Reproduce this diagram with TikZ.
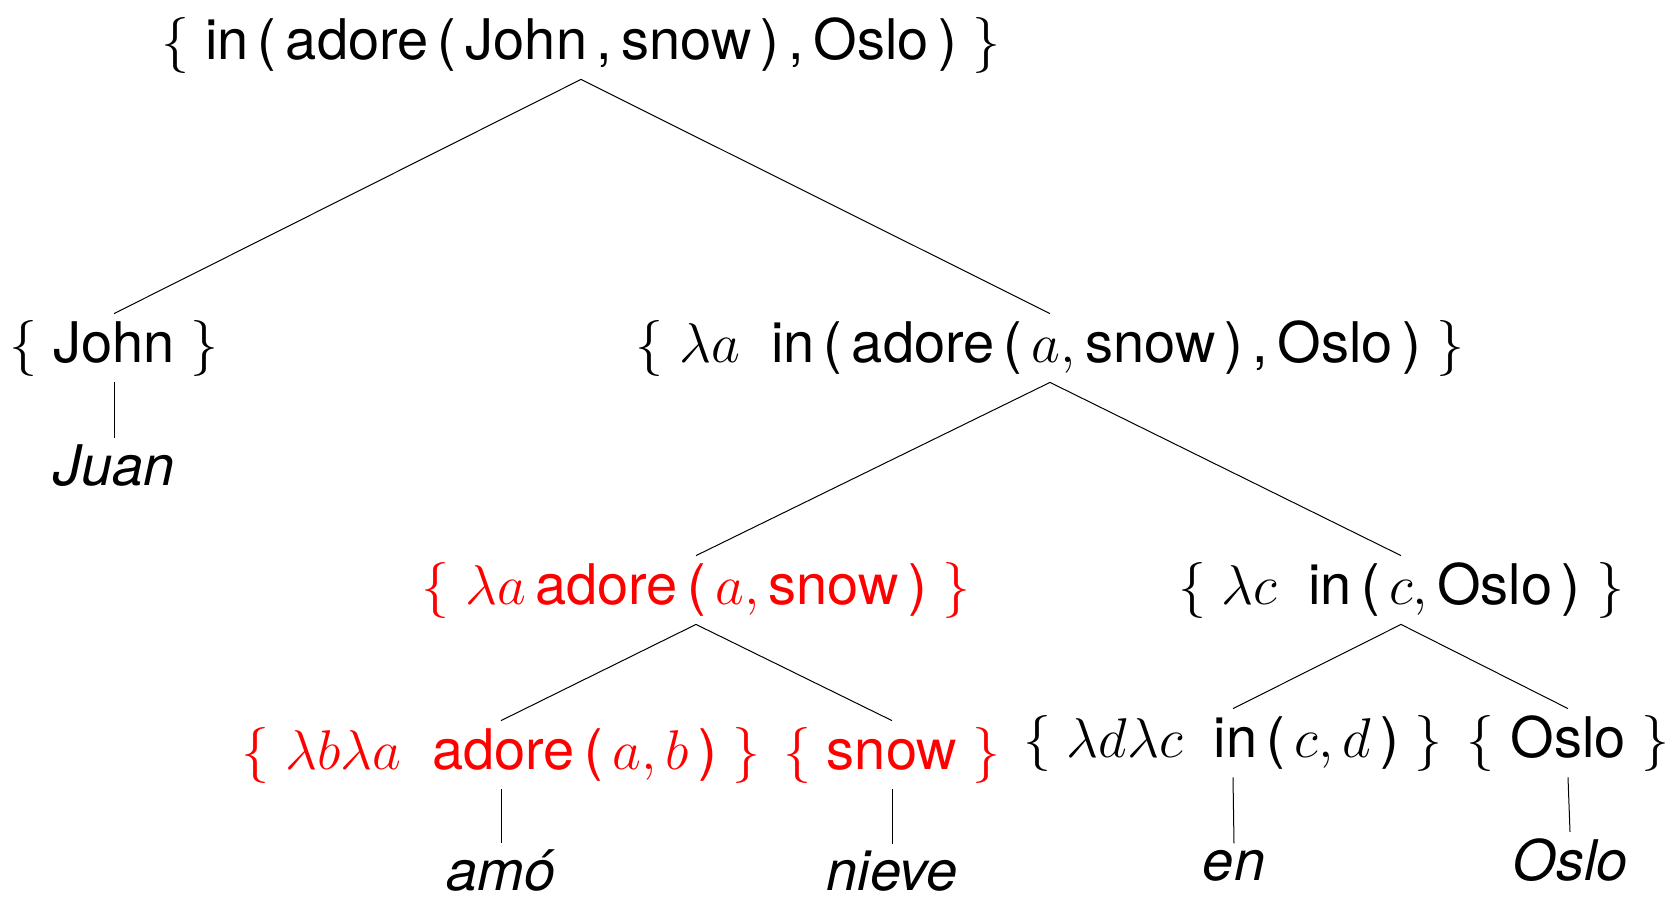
\RequirePackage{fix-cm}
\documentclass[tikz,border=0pt]{standalone}
\usepackage{fontspec}
\setmainfont{TeX Gyre Heros}
\usepackage{tikz}
\usetikzlibrary{positioning}
\usepackage{xcolor}
\tikzstyle{sem} = [anchor=base, inner sep=3pt]
\tikzstyle{hl} = [sem, text=red]
\tikzstyle{gloss} = [anchor=base, inner sep=3pt, font=\fontsize{28}{34}\selectfont\itshape]
\tikzstyle{edge} = [draw=black, line width=0.5pt]

\begin{document}
\begin{tikzpicture}[x=0.5pt, y=-0.5pt, every node/.style={font=\fontsize{28}{34}\selectfont}]
  \useasboundingbox (0,0) rectangle (1671,901);

  % Root
  \node[sem] (root) at (581,59) {$\{$ in\,(\,adore\,(\,John\,,\,snow\,)\,,\,Oslo\,) $\}$};

  % Second level
  \node[sem] (john) at (114,362) {$\{$ John $\}$};
  \node[sem] (vp) at (1050,362) {$\{\ \lambda a$\;\ in\,(\,adore\,(\,$a,$\,snow\,)\,,\,Oslo\,) $\}$};

  % Third level
  \node[hl] (vbar) at (696,604) {$\{\ \lambda a$\,adore\,(\,$a,$\,snow\,) $\}$};
  \node[sem] (pp) at (1401,604) {$\{\ \lambda c$\;\ in\,(\,$c,$\,Oslo\,) $\}$};

  % Fourth level
  \node[hl] (verb) at (501,769) {$\{\ \lambda b\lambda a$\;\ adore\,(\,$a,b$\,) $\}$};
  \node[hl] (obj) at (892,769) {$\{$ snow $\}$};
  \node[sem] (prep) at (1233,757) {$\{\ \lambda d\lambda c$\;\ in\,(\,$c,d$\,) $\}$};
  \node[sem] (place) at (1568,757) {$\{$ Oslo $\}$};

  % Spanish words
  \node[gloss] (juan) at (114,485) {Juan};
  \node[gloss] (amo) at (501,890) {amó};
  \node[gloss] (nieve) at (892,890) {nieve};
  \node[gloss] (en) at (1234,880) {en};
  \node[gloss] (oslo) at (1570,880) {Oslo};

  % Tree edges
  \draw[edge] (root.south) -- (john.north);
  \draw[edge] (root.south) -- (vp.north);
  \draw[edge] (vp.south) -- (vbar.north);
  \draw[edge] (vp.south) -- (pp.north);
  \draw[edge] (vbar.south) -- (verb.north);
  \draw[edge] (vbar.south) -- (obj.north);
  \draw[edge] (pp.south) -- (prep.north);
  \draw[edge] (pp.south) -- (place.north);

  % Lexical links
  \draw[edge] (john.south) -- (juan.north);
  \draw[edge] (verb.south) -- (amo.north);
  \draw[edge] (obj.south) -- (nieve.north);
  \draw[edge] (prep.south) -- (en.north);
  \draw[edge] (place.south) -- (oslo.north);
\end{tikzpicture}
\end{document}
